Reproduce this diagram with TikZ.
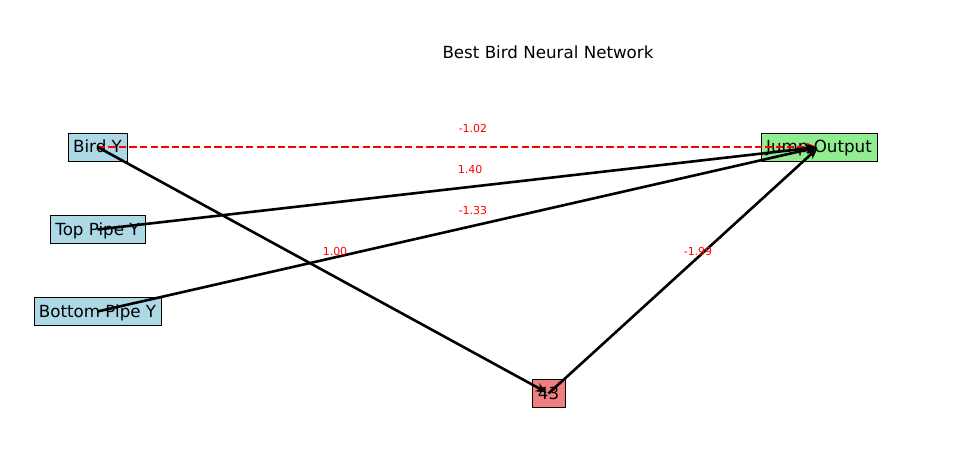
\documentclass[tikz,border=0pt]{standalone}
\usepackage{fontspec}
\setmainfont{DejaVu Sans}
\usetikzlibrary{arrows.meta}
\definecolor{lblue}{RGB}{173,216,230}
\definecolor{lgreen}{RGB}{144,238,144}
\definecolor{lcoral}{RGB}{240,128,128}
\begin{document}
\begin{tikzpicture}[x=1pt,y=-1pt,
  nbox/.style={draw=black,line width=0.9pt,inner sep=0pt,minimum height=28pt,font=\fontsize{16.7}{20}\selectfont,text height=12pt,text depth=0pt},
  conn/.style={line width=2.6pt,-{Stealth[length=11pt,width=9pt]},shorten >=2pt},
  wlabel/.style={text=red,font=\fontsize{11}{13}\selectfont,inner sep=0pt}]
\useasboundingbox (0,0) rectangle (963,457);
\node[font=\fontsize{16.7}{20}\selectfont] (title) at (548,52) {Best Bird Neural Network};
\node[nbox,fill=lblue,minimum width=59pt] (bird) at (97.5,147) {Bird Y};
\node[nbox,fill=lblue,minimum width=95pt] (top) at (97.5,229.5) {Top Pipe Y};
\node[nbox,fill=lblue,minimum width=127pt] (bottom) at (97.5,311.5) {Bottom Pipe Y};
\node[nbox,fill=lgreen,minimum width=116pt] (jump) at (819,147) {Jump Output};
\node[nbox,fill=lcoral,minimum width=33pt] (hid) at (548.5,393.5) {43};
\draw[conn,red,dashed,dash pattern=on 7.4pt off 3.2pt] (bird.center) -- (jump.center);
\draw[conn] (top.center) -- (jump.center);
\draw[conn] (bottom.center) -- (jump.center);
\draw[conn] (bird.center) -- (hid.center);
\draw[conn] (hid.center) -- (jump.center);
\node[wlabel] (l1) at (473,128) {-1.02};
\node[wlabel] (l2) at (470,169) {1.40};
\node[wlabel] (l3) at (473,210) {-1.33};
\node[wlabel] (l4) at (335,251) {1.00};
\node[wlabel] (l5) at (698,251) {-1.99};
\end{tikzpicture}
\end{document}
